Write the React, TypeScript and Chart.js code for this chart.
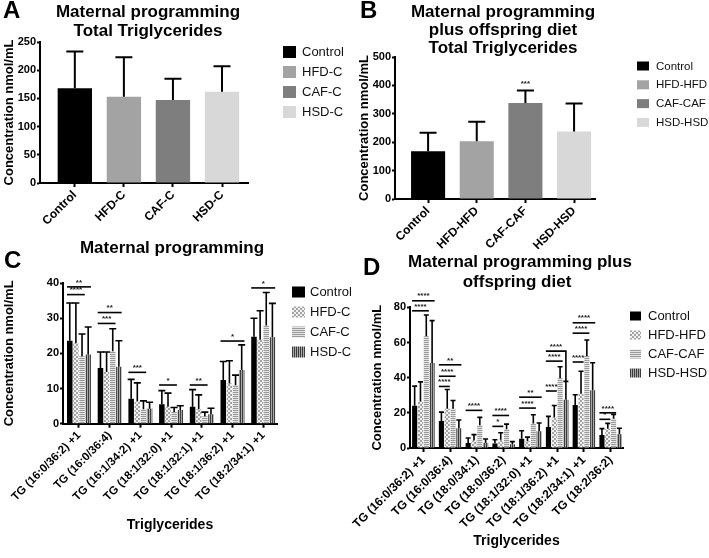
import React, { useEffect, useRef } from 'react';
import { Chart, registerables } from 'chart.js';

Chart.register(...registerables);

const FONT = '"Liberation Sans", Arial, Helvetica, sans-serif';
Chart.defaults.font.family = FONT;
Chart.defaults.color = '#000';

// ---------- Panel A ----------
const catsA = ['Control', 'HFD-C', 'CAF-C', 'HSD-C'];
const meanA = [168, 153, 147, 162];
const upperA = [233, 223, 185, 207]; // mean + SD

// ---------- Panel B ----------
const catsB = ['Control', 'HFD-HFD', 'CAF-CAF', 'HSD-HSD'];
const meanB = [168, 203, 338, 238];
const upperB = [233, 272, 382, 336];
const starsB = [{ index: 2, value: 392, label: '***' }];

// ---------- Panel C ----------
const tgC = ['TG (16:0/36:2) +1', 'TG (16:0/36:4)', 'TG (16:1/34:2) +1', 'TG (18:1/32:0) +1', 'TG (18:1/32:1) +1', 'TG (18:1/36:2) +1', 'TG (18:2/34:1) +1'];
const seriesC = ['Control', 'HFD-C', 'CAF-C', 'HSD-C'];
const cControl = [23.6, 15.8, 7.1, 5.5, 4.8, 12.4, 24.7];
const cControlUp = [34.3, 20.4, 12.6, 9.4, 9.7, 17.7, 30.0];
const cHFD = [22.9, 14.7, 6.4, 4.8, 4.1, 11.4, 23.9];
const cHFDUp = [34.3, 20.4, 11.6, 8.7, 8.2, 17.9, 32.1];
const cCAF = [19.2, 20.6, 4.1, 3.3, 2.1, 10.9, 27.9];
const cCAFUp = [25.5, 27.0, 6.5, 4.6, 3.3, 13.8, 37.3];
const cHSD = [19.7, 16.2, 4.3, 3.9, 2.7, 15.3, 24.6];
const cHSDUp = [27.5, 23.6, 6.1, 5.1, 4.4, 22.4, 34.2];
// [group, from series, to series, y value, label, optional drop-to value]
const sigC: (number | string)[][] = [
  [0, 0, 2, 36.7, '****'], [0, 0, 3, 38.9, '**'],
  [1, 0, 2, 28.5, '***'], [1, 0, 3, 31.6, '**'],
  [2, 0, 2, 14.6, '***'],
  [3, 0, 2, 11.0, '*'],
  [4, 0, 2, 11.0, '**'],
  [5, 0, 3, 23.5, '*'],
  [6, 0, 3, 38.6, '*'],
];

// ---------- Panel D ----------
const tgD = ['TG (16:0/36:2) +1', 'TG (16:0/36:4)', 'TG (18:0/34:1)', 'TG (18:0/36:2)', 'TG (18:1/32:0) +1', 'TG (18:1/36:2) +1', 'TG (18:2/34:1) +1', 'TG (18:2/36:2)'];
const seriesD = ['Control', 'HFD-HFD', 'CAF-CAF', 'HSD-HSD'];
const dControl = [24.0, 15.3, 2.8, 2.6, 5.3, 11.9, 24.4, 7.4];
const dControlUp = [35.2, 20.4, 5.7, 4.7, 9.8, 18.0, 30.3, 11.0];
const dHFD = [26.5, 22.3, 4.3, 4.7, 3.8, 17.4, 30.9, 11.0];
const dHFDUp = [37.6, 33.3, 7.6, 8.7, 6.2, 24.2, 43.6, 14.0];
const dCAF = [63.5, 22.3, 12.9, 10.6, 14.0, 39.6, 52.3, 16.7];
const dCAFUp = [75.6, 27.0, 17.4, 13.6, 18.9, 46.2, 61.4, 19.1];
const dHSD = [48.4, 11.2, 3.0, 2.1, 9.5, 27.5, 32.8, 7.8];
const dHSDUp = [72.4, 15.9, 5.1, 3.6, 14.2, 37.9, 48.5, 11.2];
const sigD: (number | string)[][] = [
  [0, 0, 2, 78.0, '****'], [0, 0, 3, 83.7, '****'],
  [1, 0, 1, 35.0, '****'], [1, 0, 2, 40.8, '****'], [1, 0, 3, 47.3, '**'],
  [2, 0, 2, 21.4, '****'],
  [3, 0, 1, 12.3, '*'], [3, 0, 2, 18.5, '****'],
  [4, 0, 2, 22.7, '****'], [4, 0, 3, 28.9, '**'],
  [5, 0, 1, 32.4, '****'], [5, 0, 2, 49.4, '****'], [5, 0, 3, 55.1, '****', 38.0],
  [6, 0, 1, 48.9, '****'], [6, 0, 2, 65.3, '****'], [6, 0, 3, 71.2, '****'],
  [7, 0, 1, 16.3, '*'], [7, 0, 2, 20.0, '****'],
];

const Y_TITLE = 'Concentration nmol/mL';

function makePattern(kind: string): any {
  const c = document.createElement('canvas');
  c.width = 4;
  c.height = 4;
  const g = c.getContext('2d')!;
  if (kind === 'check') {
    g.fillStyle = '#f0f0f0';
    g.fillRect(0, 0, 4, 4);
    g.fillStyle = '#a4a4a4';
    g.fillRect(0, 0, 2, 2);
    g.fillRect(2, 2, 2, 2);
  } else if (kind === 'h') {
    g.fillStyle = '#e4e4e4';
    g.fillRect(0, 0, 4, 4);
    g.fillStyle = '#9a9a9a';
    g.fillRect(0, 0, 4, 1);
    g.fillRect(0, 2, 4, 1);
  } else {
    g.fillStyle = '#a8a8a8';
    g.fillRect(0, 0, 4, 4);
    g.fillStyle = '#3c3c3c';
    g.fillRect(0, 0, 1, 4);
    g.fillRect(2, 0, 1, 4);
  }
  return g.createPattern(c, 'repeat');
}

type Overlay = {
  uppers: number[][];
  capW: number;
  errLW: number;
  sigs?: (number | string)[][];
  stars?: { index: number; value: number; label: string }[];
  titles: { text: string; x: number; y: number }[];
  letter: { text: string; x: number; y: number };
  legend: { x: number; y: number; dy: number; boxW: number; boxH: number; textX: number; size: number };
};

function overlayPlugin(o: Overlay) {
  return {
    id: 'overlay',
    afterDatasetsDraw(chart: any) {
      const ctx = chart.ctx;
      const ys = chart.scales.y;
      ctx.save();
      ctx.strokeStyle = '#000';
      ctx.lineWidth = o.errLW;
      chart.data.datasets.forEach((ds: any, i: number) => {
        const meta = chart.getDatasetMeta(i);
        meta.data.forEach((el: any, j: number) => {
          const up = o.uppers[i][j];
          const yTop = ys.getPixelForValue(up);
          ctx.beginPath();
          ctx.moveTo(el.x, el.y);
          ctx.lineTo(el.x, yTop);
          ctx.moveTo(el.x - o.capW / 2, yTop);
          ctx.lineTo(el.x + o.capW / 2, yTop);
          ctx.stroke();
        });
      });
      if (o.sigs) {
        ctx.lineWidth = 1.6;
        ctx.font = `bold 8px ${FONT}`;
        ctx.textAlign = 'center';
        ctx.textBaseline = 'bottom';
        ctx.fillStyle = '#222';
        o.sigs.forEach((s) => {
          const g = s[0] as number;
          const a = chart.getDatasetMeta(s[1] as number).data[g];
          const b = chart.getDatasetMeta(s[2] as number).data[g];
          const y = ys.getPixelForValue(s[3] as number);
          const x1 = a.x - a.width / 2;
          const x2 = s.length > 5 ? b.x : b.x + b.width / 2;
          ctx.beginPath();
          ctx.moveTo(x1, y);
          ctx.lineTo(x2, y);
          if (s.length > 5) {
            ctx.lineTo(x2, ys.getPixelForValue(s[5] as number));
          }
          ctx.stroke();
          ctx.fillText(s[4] as string, (x1 + x2) / 2, y - 0.5);
        });
      }
      if (o.stars) {
        ctx.font = `bold 8px ${FONT}`;
        ctx.textAlign = 'center';
        ctx.textBaseline = 'bottom';
        ctx.fillStyle = '#222';
        o.stars.forEach((s) => {
          const el = chart.getDatasetMeta(s.index).data[0];
          ctx.fillText(s.label, el.x, ys.getPixelForValue(s.value));
        });
      }
      ctx.restore();
    },
    afterDraw(chart: any) {
      const ctx = chart.ctx;
      ctx.save();
      ctx.fillStyle = '#000';
      ctx.textAlign = 'center';
      ctx.textBaseline = 'middle';
      ctx.font = `bold 17px ${FONT}`;
      o.titles.forEach((t) => ctx.fillText(t.text, t.x, t.y));
      ctx.textAlign = 'left';
      ctx.textBaseline = 'alphabetic';
      ctx.font = `bold 24px ${FONT}`;
      ctx.fillText(o.letter.text, o.letter.x, o.letter.y);
      const L = o.legend;
      ctx.font = `${L.size}px ${FONT}`;
      ctx.textBaseline = 'middle';
      chart.data.datasets.forEach((ds: any, i: number) => {
        const cy = L.y + i * L.dy;
        ctx.fillStyle = ds.backgroundColor;
        ctx.fillRect(L.x, cy - L.boxH / 2, L.boxW, L.boxH);
        ctx.fillStyle = '#111';
        ctx.fillText(ds.label, L.textX, cy + 0.5);
      });
      ctx.restore();
    },
  };
}

type Spec = {
  cats: string[];
  datasets: any[];
  grouped: boolean;
  catPct: number;
  barPct: number;
  xMin: number;
  xMax: number;
  xFont: number;
  xH: number;
  xTitle?: string;
  yMax: number;
  yStep: number;
  yW: number;
  pad: { left: number; right: number; top: number; bottom: number };
  overlay: Overlay;
};

function buildConfig(s: Spec): any {
  return {
    type: 'bar',
    data: {
      datasets: s.datasets.map((d) => ({
        ...d,
        grouped: s.grouped,
        categoryPercentage: s.catPct,
        barPercentage: s.barPct,
        borderWidth: 0,
      })),
    },
    options: {
      responsive: false,
      animation: false,
      events: [],
      layout: { padding: s.pad },
      plugins: { legend: { display: false }, tooltip: { enabled: false }, title: { display: false } },
      scales: {
        x: {
          type: 'linear',
          min: s.xMin,
          max: s.xMax,
          bounds: 'data',
          offset: false,
          afterBuildTicks: (sc: any) => {
            sc.ticks = s.cats.map((_, i) => ({ value: i }));
          },
          afterFit: (sc: any) => {
            sc.height = s.xH;
          },
          ticks: {
            autoSkip: false,
            minRotation: 45,
            maxRotation: 45,
            padding: 1,
            color: '#000',
            font: { size: s.xFont, weight: 'bold' },
            callback: (v: any) => (s.cats[v] !== undefined ? s.cats[v] : ''),
          },
          grid: { display: true, drawOnChartArea: false, drawTicks: true, tickLength: 4, tickWidth: 2, color: '#000', offset: false },
          border: { display: true, width: 2, color: '#000' },
          title: s.xTitle
            ? { display: true, text: s.xTitle, color: '#000', font: { size: 14, weight: 'bold' }, padding: 0 }
            : { display: false },
        },
        y: {
          type: 'linear',
          min: 0,
          max: s.yMax,
          bounds: 'data',
          afterFit: (sc: any) => {
            sc.width = s.yW;
          },
          ticks: { stepSize: s.yStep, padding: 1, color: '#000', font: { size: 11, weight: 'bold' } },
          grid: { display: true, drawOnChartArea: false, drawTicks: true, tickLength: 3, tickWidth: 2, color: '#000' },
          border: { display: true, width: 2, color: '#000' },
          title: { display: true, text: Y_TITLE, color: '#000', font: { size: 13, weight: 'bold' }, padding: 0 },
        },
      },
    },
    plugins: [overlayPlugin(s.overlay)],
  };
}

const solidColors = ['#000000', '#a3a3a3', '#7e7e7e', '#d8d8d8'];

function specA(): Spec {
  return {
    cats: catsA,
    datasets: catsA.map((name, i) => ({ label: name, data: [{ x: i, y: meanA[i] }], backgroundColor: solidColors[i] })),
    grouped: false,
    catPct: 0.7,
    barPct: 1,
    xMin: -0.71,
    xMax: 3.53,
    xFont: 12,
    xH: 50,
    yMax: 250,
    yStep: 50,
    yW: 38,
    pad: { left: 2, right: 107, top: 42, bottom: 7 },
    overlay: {
      uppers: upperA.map((v) => [v]),
      capW: 17,
      errLW: 2,
      titles: [
        { text: 'Maternal programming', x: 148, y: 12 },
        { text: 'Total Triglycerides', x: 148, y: 31 },
      ],
      letter: { text: 'A', x: 3, y: 18 },
      legend: { x: 283, y: 52, dy: 20, boxW: 13, boxH: 12, textX: 302, size: 13 },
    },
  };
}

function specB(): Spec {
  return {
    cats: catsB,
    datasets: catsB.map((name, i) => ({ label: name, data: [{ x: i, y: meanB[i] }], backgroundColor: solidColors[i] })),
    grouped: false,
    catPct: 0.7,
    barPct: 1,
    xMin: -0.68,
    xMax: 3.43,
    xFont: 12,
    xH: 50,
    yMax: 500,
    yStep: 100,
    yW: 38,
    pad: { left: 2, right: 114, top: 57, bottom: 7 },
    overlay: {
      uppers: upperB.map((v) => [v]),
      capW: 17,
      errLW: 2,
      stars: starsB,
      titles: [
        { text: 'Maternal programming', x: 148, y: 12 },
        { text: 'plus offspring diet', x: 148, y: 30 },
        { text: 'Total Triglycerides', x: 148, y: 48 },
      ],
      letter: { text: 'B', x: 5, y: 18 },
      legend: { x: 282, y: 66, dy: 18.8, boxW: 12, boxH: 9, textX: 301, size: 11.5 },
    },
  };
}

function specC(): Spec {
  const pats = ['#000000', makePattern('check'), makePattern('h'), makePattern('v')];
  const vals = [cControl, cHFD, cCAF, cHSD];
  return {
    cats: tgC,
    datasets: seriesC.map((name, i) => ({ label: name, data: vals[i].map((v, k) => ({ x: k, y: v })), backgroundColor: pats[i] })),
    grouped: true,
    catPct: 0.8,
    barPct: 0.9,
    xMin: -0.52,
    xMax: 6.45,
    xFont: 11.5,
    xH: 109.7,
    xTitle: 'Triglycerides',
    yMax: 40,
    yStep: 10,
    yW: 61,
    pad: { left: 2, right: 83, top: 43, bottom: 24.6 },
    overlay: {
      uppers: [cControlUp, cHFDUp, cCAFUp, cHSDUp],
      capW: 7,
      errLW: 1.6,
      sigs: sigC,
      titles: [{ text: 'Maternal programming', x: 172, y: 8.5 }],
      letter: { text: 'C', x: 4, y: 28 },
      legend: { x: 292, y: 52, dy: 20, boxW: 13, boxH: 11, textX: 310, size: 13 },
    },
  };
}

function specD(): Spec {
  const pats = ['#000000', makePattern('check'), makePattern('h'), makePattern('v')];
  const vals = [dControl, dHFD, dCAF, dHSD];
  return {
    cats: tgD,
    datasets: seriesD.map((name, i) => ({ label: name, data: vals[i].map((v, k) => ({ x: k, y: v })), backgroundColor: pats[i] })),
    grouped: true,
    catPct: 0.87,
    barPct: 0.88,
    xMin: -0.5,
    xMax: 7.46,
    xFont: 12,
    xH: 101.4,
    xTitle: 'Triglycerides',
    yMax: 80,
    yStep: 20,
    yW: 40,
    pad: { left: 40, right: 86, top: 57.3, bottom: 8.6 },
    overlay: {
      uppers: [dControlUp, dHFDUp, dCAFUp, dHSDUp],
      capW: 5,
      errLW: 1.6,
      sigs: sigD,
      titles: [
        { text: 'Maternal programming plus', x: 190, y: 12 },
        { text: 'offspring diet', x: 187, y: 32 },
      ],
      letter: { text: 'D', x: 33, y: 25 },
      legend: { x: 300, y: 66, dy: 19, boxW: 11, boxH: 9, textX: 318, size: 13 },
    },
  };
}

function Panel(props: { left: number; top: number; width: number; height: number; build: () => Spec }) {
  const ref = useRef<HTMLCanvasElement>(null);
  useEffect(() => {
    const chart = new Chart(ref.current as HTMLCanvasElement, buildConfig(props.build()));
    return () => chart.destroy();
  }, []);
  return (
    <canvas
      ref={ref}
      width={props.width}
      height={props.height}
      style={{ position: 'absolute', left: props.left, top: props.top, width: props.width, height: props.height }}
    />
  );
}

export default function App() {
  return (
    <div style={{ position: 'absolute', left: 0, top: 0, width: 709, height: 558, background: '#fff', overflow: 'hidden' }}>
      <Panel left={0} top={0} width={355} height={240} build={specA} />
      <Panel left={355} top={0} width={354} height={256} build={specB} />
      <Panel left={0} top={240} width={360} height={318} build={specC} />
      <Panel left={330} top={250} width={379} height={308} build={specD} />
    </div>
  );
}
